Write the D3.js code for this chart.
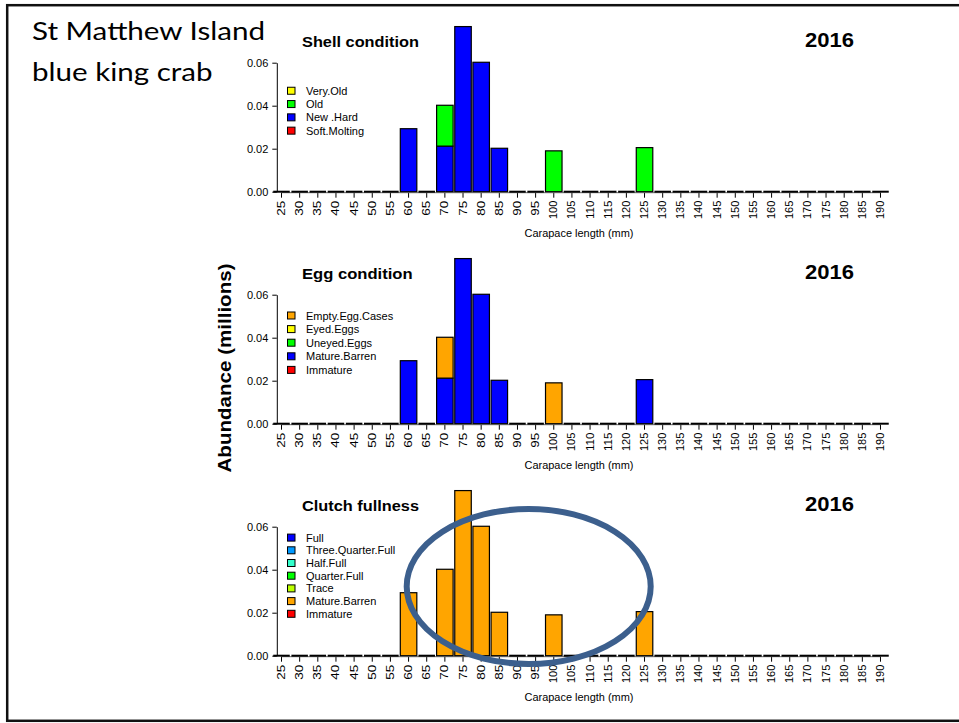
<!DOCTYPE html>
<html>
<head>
<meta charset="utf-8">
<script src="https://cdn.jsdelivr.net/npm/d3@7"></script>
<style>
  html, body { margin: 0; padding: 0; background: #fff; }
  svg { display: block; }
  .ax text { font-family: "Liberation Sans", Arial, sans-serif; fill: #000; }
</style>
</head>
<body>
<div id="chart"></div>
<script>
// ---------- DATA ----------
const lengths = ["25","30","35","40","45","50","55","60","65","70","75","80","85","90","95","100","105","110","115","120","125","130","135","140","145","150","155","160","165","170","175","180","185","190"];
const yTicks = [0, 0.02, 0.04, 0.06];
const year = "2016";

// Shell condition
const shellSoftMolting = [0,0,0,0,0,0,0,0,0,0,0,0,0,0,0,0,0,0,0,0,0,0,0,0,0,0,0,0,0,0,0,0,0,0];
const shellNewHard     = [0,0,0,0,0,0,0,0.0293,0,0.0212,0.0768,0.0602,0.0202,0,0,0,0,0,0,0,0,0,0,0,0,0,0,0,0,0,0,0,0,0];
const shellOld         = [0,0,0,0,0,0,0,0,0,0.0190,0,0,0,0,0,0.0190,0,0,0,0,0.0205,0,0,0,0,0,0,0,0,0,0,0,0,0];
const shellVeryOld     = [0,0,0,0,0,0,0,0,0,0,0,0,0,0,0,0,0,0,0,0,0,0,0,0,0,0,0,0,0,0,0,0,0,0];

// Egg condition
const eggImmature      = [0,0,0,0,0,0,0,0,0,0,0,0,0,0,0,0,0,0,0,0,0,0,0,0,0,0,0,0,0,0,0,0,0,0];
const eggMatureBarren  = [0,0,0,0,0,0,0,0.0293,0,0.0212,0.0768,0.0602,0.0202,0,0,0,0,0,0,0,0.0205,0,0,0,0,0,0,0,0,0,0,0,0,0];
const eggUneyed        = [0,0,0,0,0,0,0,0,0,0,0,0,0,0,0,0,0,0,0,0,0,0,0,0,0,0,0,0,0,0,0,0,0,0];
const eggEyed          = [0,0,0,0,0,0,0,0,0,0,0,0,0,0,0,0,0,0,0,0,0,0,0,0,0,0,0,0,0,0,0,0,0,0];
const eggEmptyCases    = [0,0,0,0,0,0,0,0,0,0.0190,0,0,0,0,0,0.0190,0,0,0,0,0,0,0,0,0,0,0,0,0,0,0,0,0,0];

// Clutch fullness
const clutchImmature     = [0,0,0,0,0,0,0,0,0,0,0,0,0,0,0,0,0,0,0,0,0,0,0,0,0,0,0,0,0,0,0,0,0,0];
const clutchMatureBarren = [0,0,0,0,0,0,0,0.0293,0,0.0402,0.0768,0.0602,0.0202,0,0,0.0190,0,0,0,0,0.0205,0,0,0,0,0,0,0,0,0,0,0,0,0];
const clutchTrace        = [0,0,0,0,0,0,0,0,0,0,0,0,0,0,0,0,0,0,0,0,0,0,0,0,0,0,0,0,0,0,0,0,0,0];
const clutchQuarter      = [0,0,0,0,0,0,0,0,0,0,0,0,0,0,0,0,0,0,0,0,0,0,0,0,0,0,0,0,0,0,0,0,0,0];
const clutchHalf         = [0,0,0,0,0,0,0,0,0,0,0,0,0,0,0,0,0,0,0,0,0,0,0,0,0,0,0,0,0,0,0,0,0,0];
const clutchThreeQuarter = [0,0,0,0,0,0,0,0,0,0,0,0,0,0,0,0,0,0,0,0,0,0,0,0,0,0,0,0,0,0,0,0,0,0];
const clutchFull         = [0,0,0,0,0,0,0,0,0,0,0,0,0,0,0,0,0,0,0,0,0,0,0,0,0,0,0,0,0,0,0,0,0,0];

// series names, bottom -> top of stack
const shellNames  = ["Soft.Molting","New .Hard","Old","Very.Old"];
const eggNames    = ["Immature","Mature.Barren","Uneyed.Eggs","Eyed.Eggs","Empty.Egg.Cases"];
const clutchNames = ["Immature","Mature.Barren","Trace","Quarter.Full","Half.Full","Three.Quarter.Full","Full"];

const shellColors  = ["#FF0000","#0000FF","#00FF00","#FFFF00"];
const eggColors    = ["#FF0000","#0000FF","#00FF00","#FFFF00","#FFA500"];
const clutchColors = ["#FF0000","#FFA500","#BBFF00","#00FF00","#33FFCC","#0099FF","#0000FF"];

const panels = [
  { title: "Shell condition", names: shellNames, colors: shellColors,
    series: [shellSoftMolting, shellNewHard, shellOld, shellVeryOld],
    y0: 191.7, legStep: 13.3, legMid: 81, titleLen: 117 },
  { title: "Egg condition", names: eggNames, colors: eggColors,
    series: [eggImmature, eggMatureBarren, eggUneyed, eggEyed, eggEmptyCases],
    y0: 423.7, legStep: 13.6, legMid: 81, titleLen: 110.6 },
  { title: "Clutch fullness", names: clutchNames, colors: clutchColors,
    series: [clutchImmature, clutchMatureBarren, clutchTrace, clutchQuarter, clutchHalf, clutchThreeQuarter, clutchFull],
    y0: 655.7, legStep: 12.7, legMid: 80, titleLen: 117 }
];

// ---------- DRAW ----------
const W = 959, H = 723;
const FONT = '"Liberation Sans", Arial, sans-serif';
const svg = d3.select("#chart").append("svg").attr("width", W).attr("height", H);
svg.append("rect").attr("width", W).attr("height", H).attr("fill", "#fff");

// slide frame
svg.append("rect").attr("x", 7.2).attr("y", 5.2).attr("width", 980).attr("height", 715.6)
  .attr("fill", "none").attr("stroke", "#111").attr("stroke-width", 2.5);

// slide title
svg.append("text").attr("x", 32).attr("y", 40).text("St Matthew Island")
  .attr("font-family", "Lato, 'Open Sans', sans-serif").attr("font-size", 25.5)
  .attr("textLength", 233).attr("lengthAdjust", "spacingAndGlyphs").attr("fill", "#000");
svg.append("text").attr("x", 32).attr("y", 81).text("blue king crab")
  .attr("font-family", "Lato, 'Open Sans', sans-serif").attr("font-size", 25.5)
  .attr("textLength", 180.5).attr("lengthAdjust", "spacingAndGlyphs").attr("fill", "#000");

// y label
svg.append("text")
  .attr("transform", "translate(231,368) rotate(-90)")
  .attr("text-anchor", "middle")
  .attr("font-family", FONT).attr("font-weight", "bold").attr("font-size", 17.5)
  .attr("textLength", 209).attr("lengthAdjust", "spacingAndGlyphs")
  .text("Abundance (millions)");

const x = d3.scaleBand().domain(lengths)
  .range([272.43, 889.57]).paddingInner(0.09).paddingOuter(0.045);
const xc = d => x(d) + x.bandwidth() / 2;

panels.forEach(p => {
  const g = svg.append("g");
  const y = d3.scaleLinear().domain([0, 0.06]).range([p.y0, p.y0 - 129]);

  const keys = p.names;
  const table = lengths.map((L, i) => {
    const row = { L };
    keys.forEach((k, j) => row[k] = p.series[j][i]);
    return row;
  });
  const stacked = d3.stack().keys(keys)(table);
  const totals = table.map(r => d3.sum(keys, k => r[k]));

  // x axis line + ticks
  const xAxis = g.append("g").attr("class", "ax")
    .attr("transform", `translate(0,${p.y0 + 1})`)
    .call(d3.axisBottom(x).tickSize(5).tickSizeOuter(0));
  xAxis.select(".domain").remove();
  xAxis.selectAll(".tick line").attr("stroke", "#000").attr("stroke-width", 1);
  xAxis.selectAll(".tick text")
    .attr("font-size", 10).attr("font-family", FONT)
    .attr("text-anchor", "end").attr("dy", null)
    .attr("transform", "translate(0,8) rotate(-90)")
    .attr("x", 0).attr("y", 0).attr("dominant-baseline", "central")
    .attr("textLength", d => d.length === 3 ? 18.3 : 15)
    .attr("lengthAdjust", "spacingAndGlyphs");
  g.append("line")
    .attr("x1", xc(lengths[0])).attr("x2", xc(lengths[lengths.length - 1]))
    .attr("y1", p.y0 + 1).attr("y2", p.y0 + 1)
    .attr("stroke", "#666").attr("stroke-width", 1);

  // zero-height bars (drawn as flat bars)
  g.selectAll("line.zero").data(table.filter((r, i) => totals[i] === 0)).join("line")
    .attr("class", "zero")
    .attr("x1", d => x(d.L)).attr("x2", d => x(d.L) + x.bandwidth())
    .attr("y1", y(0)).attr("y2", y(0))
    .attr("stroke", "#000").attr("stroke-width", 2);

  // stacked bars
  stacked.forEach((s, j) => {
    g.selectAll(null).data(s.filter(d => d[1] - d[0] > 0)).join("rect")
      .attr("x", d => x(d.data.L)).attr("width", x.bandwidth())
      .attr("y", d => y(d[1])).attr("height", d => y(d[0]) - y(d[1]))
      .attr("fill", p.colors[j]).attr("stroke", "#000").attr("stroke-width", 1.2);
  });

  // y axis
  const yAxis = g.append("g").attr("class", "ax")
    .attr("transform", "translate(276.8,0)")
    .call(d3.axisLeft(y).tickValues(yTicks).tickFormat(d3.format(".2f")).tickSize(4.5).tickSizeOuter(0));
  yAxis.select(".domain").attr("stroke", "#000");
  yAxis.selectAll(".tick text").attr("font-size", 11).attr("x", -8.5);

  // axis title
  g.append("text").attr("x", 579).attr("y", p.y0 + 45.5)
    .attr("text-anchor", "middle").attr("font-family", FONT).attr("font-size", 10.5)
    .attr("textLength", 109).attr("lengthAdjust", "spacingAndGlyphs")
    .text("Carapace length (mm)");

  // panel title
  g.append("text").attr("x", 302).attr("y", p.y0 - 145)
    .attr("font-family", FONT).attr("font-weight", "bold").attr("font-size", 15)
    .attr("textLength", p.titleLen).attr("lengthAdjust", "spacingAndGlyphs")
    .text(p.title);
  g.append("text").attr("x", 805).attr("y", p.y0 - 144.5)
    .attr("font-family", FONT).attr("font-weight", "bold").attr("font-size", 20.5)
    .attr("textLength", 49).attr("lengthAdjust", "spacingAndGlyphs")
    .text(year);

  // legend (top-down: reverse of stacking)
  const legItems = keys.map((k, j) => ({ k, c: p.colors[j] })).reverse();
  const n = legItems.length;
  const firstY = p.y0 - p.legMid - (n - 1) / 2 * p.legStep;
  const leg = g.append("g");
  legItems.forEach((it, i) => {
    const cy = firstY + i * p.legStep;
    leg.append("rect").attr("x", 287.5).attr("y", cy - 3.5).attr("width", 7.5).attr("height", 7)
      .attr("fill", it.c).attr("stroke", "#000").attr("stroke-width", 1);
    leg.append("text").attr("x", 306).attr("y", cy).attr("dominant-baseline", "central")
      .attr("font-family", FONT).attr("font-size", 11).text(it.k);
  });
});

// annotation ellipse
svg.append("ellipse").attr("cx", 528.7).attr("cy", 586.5).attr("rx", 122).attr("ry", 77.5)
  .attr("fill", "none").attr("stroke", "#3C5F8D").attr("stroke-width", 6);
</script>
</body>
</html>
